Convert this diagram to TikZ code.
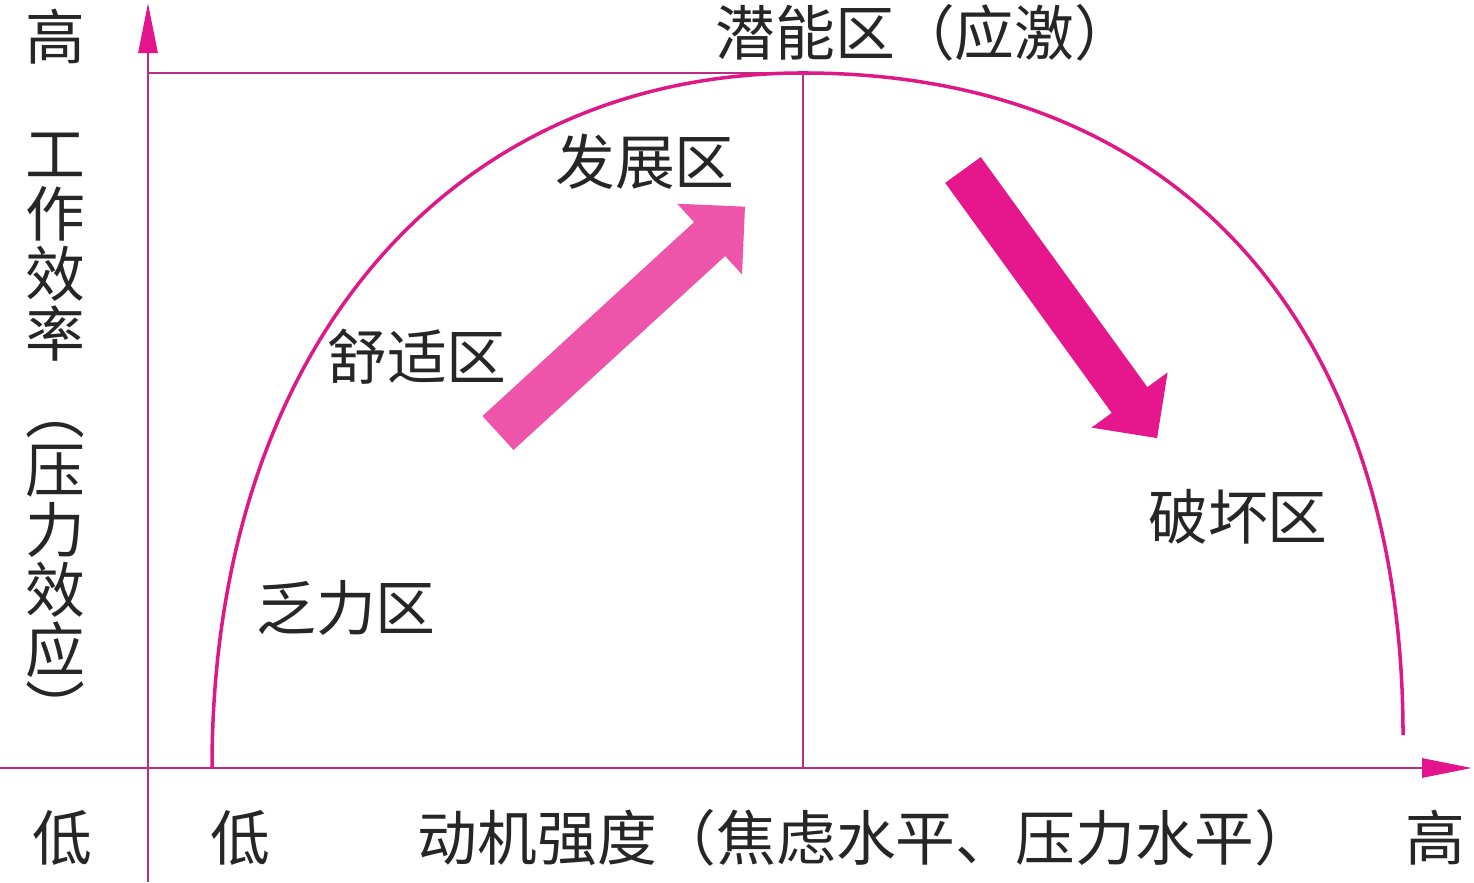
\documentclass[tikz,border=0pt]{standalone}
\usepackage{fontspec}
\setmainfont{Noto Sans CJK SC}
\usetikzlibrary{arrows.meta}
\definecolor{axiscol}{RGB}{185,45,130}
\definecolor{curvecol}{RGB}{222,25,135}
\definecolor{headcol}{RGB}{228,20,140}
\definecolor{upcol}{RGB}{238,85,170}
\definecolor{downcol}{RGB}{230,22,140}
\tikzset{
  axisline/.style={draw=axiscol, line width=0.85pt,
    -{Triangle[length=0.5cm, width=0.19cm, color=headcol]}},
  guide/.style={draw=axiscol, line width=0.8pt},
  zone/.style={text=black!85, inner sep=0pt, font=\fontsize{17}{17}\selectfont},
}
\begin{document}
\begin{tikzpicture}[x=0.01cm, y=0.01cm]
    \useasboundingbox (0,0) rectangle (1474,882);
    % axes
    \coordinate (o) at (148,114);
    \coordinate (ybot) at (148,0);
    \coordinate (ytop) at (148,879);
    \coordinate (xleft) at (0,114);
    \coordinate (xright) at (1472,114);
    \draw[axisline] (ybot) -- (ytop);
    \draw[axisline] (xleft) -- (xright);

    % peak of the curve
    \coordinate (peak) at (803,809);
    \coordinate (peakfoot) at (803,114);
    \coordinate (peakleft) at (148,809);
    \draw[guide] (peakleft) -- (peak);
    \draw[guide] (peak) -- (peakfoot);

    % inverted U curve
    \coordinate (start) at (212,114);
    \coordinate (finish) at (1403,147);
    \draw[curvecol, line width=1pt] (start)
        .. controls (212,531) and (448,809) .. (peak)
        .. controls (1200,809) and (1403,532) .. (finish);

    % block arrows
    \begin{scope}[shift={(498,449)}, rotate=42.5]
        \fill[upcol] (0,-23) -- (287,-23) -- (287,-48) -- (335,0)
            -- (287,48) -- (287,23) -- (0,23) -- cycle;
    \end{scope}
    \begin{scope}[shift={(963,712)}, rotate=-54.1]
        \fill[downcol] (0,-22) -- (284,-22) -- (284,-47) -- (331,0)
            -- (284,47) -- (284,22) -- (0,22) -- cycle;
    \end{scope}

    % zone labels
    \node[zone, anchor=west] (potential) at (715,849) {潜能区（应激）};
    \node[zone] (develop) at (645,720) {发展区};
    \node[zone] (comfort) at (417,525) {舒适区};
    \node[zone] (weak) at (346,274) {乏力区};
    \node[zone] (damage) at (1238,365) {破坏区};

    % axis labels
    \node[zone] (yhigh) at (55,845) {高};
    \node[zone] (ylow) at (62,44) {低};
    \node[zone] (xlow) at (240,44) {低};
    \node[zone, anchor=west] (xlabel) at (417,44) {动机强度（焦虑水平、压力水平）};
    \node[zone] (xhigh) at (1435,44) {高};
    \node[zone, align=center] (ylabel) at (55,635) {工\\作\\效\\率};
    \node[zone, align=center] (ylabel2) at (55,305) {︵\\压\\力\\效\\应\\︶};
\end{tikzpicture}
\end{document}
